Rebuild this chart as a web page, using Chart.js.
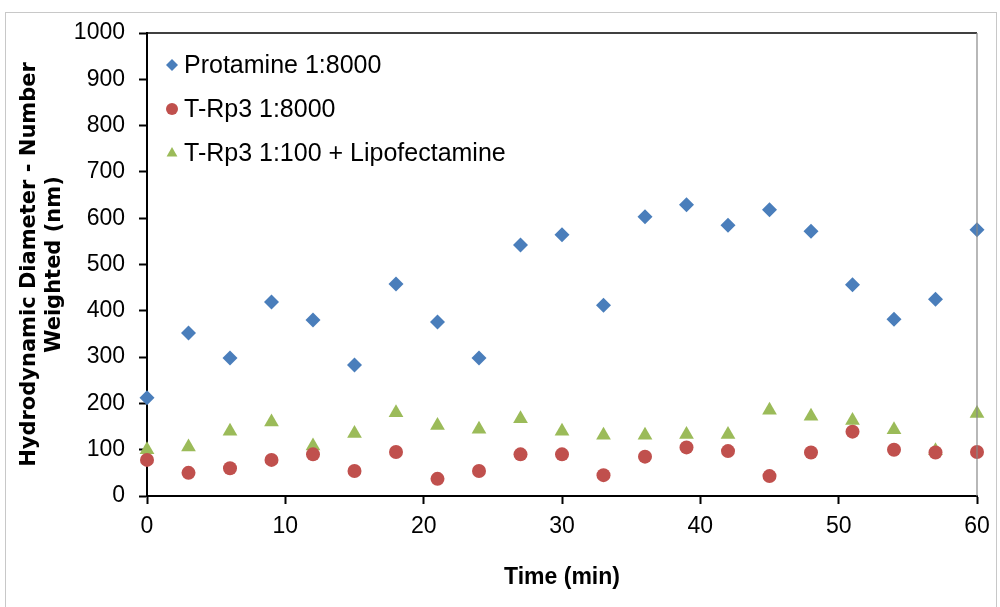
<!DOCTYPE html>
<html>
<head>
<meta charset="utf-8">
<script src="https://cdn.jsdelivr.net/npm/chart.js@4/dist/chart.umd.min.js"></script>
<style>
  html, body { margin: 0; padding: 0; background: #fff; }
  #wrap { position: relative; width: 1000px; height: 607px; }
  #frame { position: absolute; left: 5px; top: 12px; width: 992px; height: 600px; border: 1px solid #c8c8c8; box-sizing: border-box; pointer-events: none; }
  canvas { position: absolute; left: 0; top: 0; }
</style>
</head>
<body>
<div id="wrap">
  <canvas id="dlsChart" width="1000" height="607"></canvas>
  <div id="frame"></div>
</div>
<script>
// Time points (min)
const times = [0, 3, 6, 9, 12, 15, 18, 21, 24, 27, 30, 33, 36, 39, 42, 45, 48, 51, 54, 57, 60];

// Hydrodynamic diameter, number weighted (nm)
const protamine = [212, 352, 298, 419, 380, 283, 458, 376, 298, 542, 564, 412, 603, 629, 585, 618, 572, 456, 382, 425, 575];
const trp3 = [78, 50, 60, 78, 90, 54, 95, 37, 54, 90, 90, 45, 85, 105, 97, 43, 94, 139, 100, 94, 95];
const trp3Lipo = [100, 106, 140, 160, 108, 135, 180, 152, 144, 167, 140, 131, 131, 133, 133, 185, 172, 163, 143, 98, 178];

const seriesLabels = ['Protamine 1:8000', 'T-Rp3 1:8000', 'T-Rp3 1:100 + Lipofectamine'];
const xTicks = [0, 10, 20, 30, 40, 50, 60];
const yTicks = [0, 100, 200, 300, 400, 500, 600, 700, 800, 900, 1000];

const BLUE = '#4a7ebb';
const RED = '#c0504d';
const GREEN = '#9bbb59';

function toPoints(values) {
  return times.map((t, i) => ({ x: t, y: values[i] }));
}

// marker shapes for the legend
function drawMarker(ctx, style, x, y, r, color) {
  ctx.save();
  ctx.fillStyle = color;
  ctx.beginPath();
  if (style === 'rectRot') {
    ctx.moveTo(x - r, y); ctx.lineTo(x, y - r); ctx.lineTo(x + r, y); ctx.lineTo(x, y + r);
  } else if (style === 'circle') {
    ctx.arc(x, y, r, 0, Math.PI * 2);
  } else {
    ctx.moveTo(x, y - r); ctx.lineTo(x + r * 0.9, y + r * 0.6); ctx.lineTo(x - r * 0.9, y + r * 0.6);
  }
  ctx.closePath();
  ctx.fill();
  ctx.restore();
}

// Legend inside the plot area + top/right frame of the plot
const plotExtras = {
  id: 'plotExtras',
  afterDraw(chart) {
    const { ctx, chartArea } = chart;
    ctx.save();
    ctx.strokeStyle = '#000';
    ctx.lineWidth = 1.5;
    ctx.beginPath();
    ctx.moveTo(chartArea.left, chartArea.top);
    ctx.lineTo(chartArea.right, chartArea.top);
    ctx.stroke();
    ctx.strokeStyle = '#888';
    ctx.lineWidth = 1.2;
    ctx.beginPath();
    ctx.moveTo(chartArea.right, chartArea.top);
    ctx.lineTo(chartArea.right, chartArea.bottom);
    ctx.stroke();

    const styles = ['rectRot', 'circle', 'triangle'];
    const colors = [BLUE, RED, GREEN];
    const rowY = [65, 109, 153];
    ctx.font = '25px "Liberation Sans", Arial, sans-serif';
    ctx.textBaseline = 'middle';
    seriesLabels.forEach((label, i) => {
      drawMarker(ctx, styles[i], chartArea.left + 25, rowY[i], 6, colors[i]);
      ctx.fillStyle = '#000';
      ctx.fillText(label, chartArea.left + 37, rowY[i] + 1);
    });
    ctx.restore();
  }
};

const tickFont = { family: '"Liberation Sans", Arial, sans-serif', size: 23 };

new Chart(document.getElementById('dlsChart'), {
  type: 'scatter',
  data: {
    datasets: [
      { label: seriesLabels[0], data: toPoints(protamine), pointStyle: 'rectRot', pointRadius: 7.5, backgroundColor: BLUE, borderColor: BLUE, borderWidth: 0, clip: false },
      { label: seriesLabels[1], data: toPoints(trp3), pointStyle: 'circle', pointRadius: 7, backgroundColor: RED, borderColor: RED, borderWidth: 0, clip: false },
      { label: seriesLabels[2], data: toPoints(trp3Lipo), pointStyle: 'triangle', pointRadius: 8.5, backgroundColor: GREEN, borderColor: GREEN, borderWidth: 0, clip: false }
    ]
  },
  options: {
    responsive: false,
    animation: false,
    layout: { padding: { left: 0, top: 33, right: 23, bottom: 0 } },
    plugins: {
      legend: { display: false },
      tooltip: { enabled: false }
    },
    scales: {
      x: {
        type: 'linear',
        min: 0,
        max: 60,
        afterFit: s => { s.height = 111; },
        afterBuildTicks: s => { s.ticks = xTicks.map(v => ({ value: v })); },
        border: { display: true, color: '#000', width: 2 },
        grid: { drawOnChartArea: false, drawTicks: true, tickLength: 8, tickColor: '#000', tickWidth: 2 },
        ticks: { color: '#000', font: tickFont, padding: 9, maxRotation: 0, callback: v => String(v) },
        title: {
          display: true, text: 'Time (min)', color: '#000',
          font: { family: '"Liberation Sans Narrow", "Liberation Sans", sans-serif', size: 23, weight: 'bold' },
          padding: { top: 0, bottom: 16 }
        }
      },
      y: {
        min: 0,
        max: 1000,
        afterFit: s => { s.width = 147; },
        afterBuildTicks: s => { s.ticks = yTicks.map(v => ({ value: v })); },
        border: { display: true, color: '#000', width: 2 },
        grid: { drawOnChartArea: false, drawTicks: true, tickLength: 8, tickColor: '#000', tickWidth: 2 },
        ticks: { color: '#000', font: tickFont, padding: 14, callback: v => String(v) },
        title: {
          display: true, text: ['Hydrodynamic Diameter - Number', 'Weighted (nm)'], color: '#000',
          font: { family: '"DejaVu Sans", sans-serif', size: 21, weight: 'bold' },
          padding: { top: 17, bottom: 0 }
        }
      }
    }
  },
  plugins: [plotExtras]
});
</script>
</body>
</html>
